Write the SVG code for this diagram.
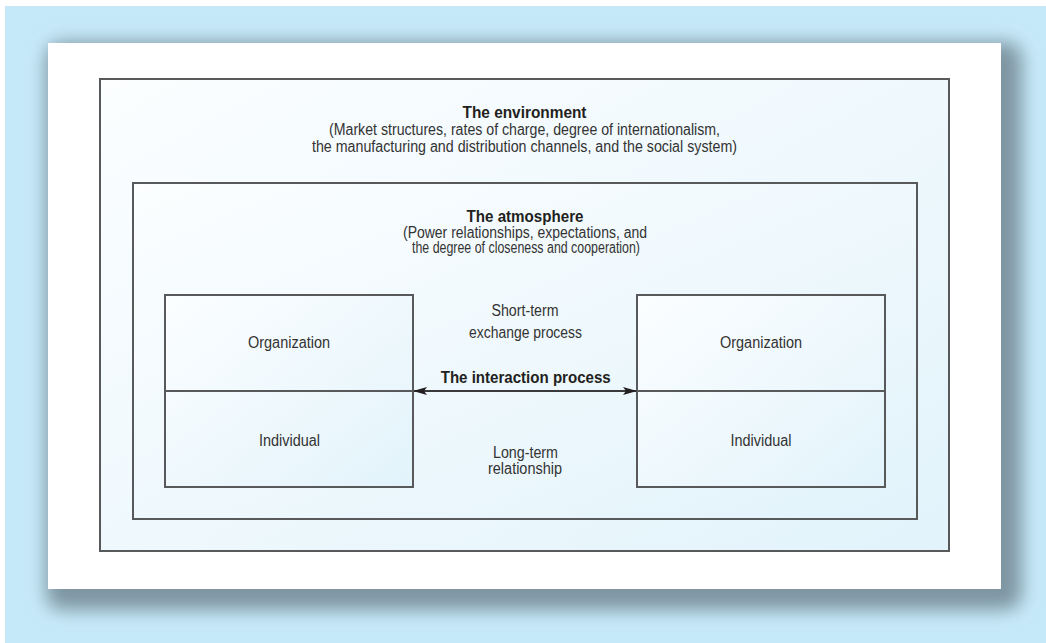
<svg xmlns="http://www.w3.org/2000/svg" width="1046" height="643" viewBox="0 0 1046 643">
  <style>
    .box { stroke: #58595b; stroke-width: 2; }
    .div { stroke: #58595b; stroke-width: 2; fill: none; }
    text { font-family: "Liberation Sans", Arial, sans-serif; font-size: 16px; fill: #333333; text-anchor: middle; }
    .b { font-weight: bold; fill: #231f20; }
    .conn { stroke: #3a3a3c; stroke-width: 2; fill: none; }
  </style>
  <defs>
    <linearGradient id="g" x1="0" y1="0" x2="1" y2="1">
      <stop offset="0" stop-color="#fcfeff"/>
      <stop offset="1" stop-color="#e2f3fb"/>
    </linearGradient>
    <filter id="blur" x="-10%" y="-10%" width="120%" height="120%">
      <feGaussianBlur stdDeviation="9"/>
    </filter>
    <marker id="ah" viewBox="0 0 14 8" refX="13" refY="4" markerWidth="14" markerHeight="8" markerUnits="userSpaceOnUse" orient="auto-start-reverse">
      <path d="M0,0 L14,4 L0,8 L3,4 z" fill="#231f20"/>
    </marker>
  </defs>
  <rect x="0" y="0" width="1046" height="643" fill="#ffffff"/>
  <rect x="5" y="6" width="1041" height="637" fill="#c6e9f9"/>
  <rect x="46" y="42" width="976" height="568" rx="16" fill="#7f96a3" filter="url(#blur)"/>
  <rect x="48" y="43" width="953" height="546" fill="#ffffff"/>

  <g id="environment">
    <rect class="box" x="100" y="79" width="849" height="472" fill="url(#g)"/>
    <text class="b" x="524.5" y="118" textLength="124" lengthAdjust="spacingAndGlyphs">The environment</text>
    <text x="524.5" y="135" textLength="391" lengthAdjust="spacingAndGlyphs">(Market structures, rates of charge, degree of internationalism,</text>
    <text x="524.5" y="151.5" textLength="425" lengthAdjust="spacingAndGlyphs">the manufacturing and distribution channels, and the social system)</text>
  </g>

  <g id="atmosphere">
    <rect class="box" x="133" y="183" width="784" height="336" fill="url(#g)"/>
    <text class="b" x="525" y="222" textLength="117" lengthAdjust="spacingAndGlyphs">The atmosphere</text>
    <text x="525" y="238" textLength="244" lengthAdjust="spacingAndGlyphs">(Power relationships, expectations, and</text>
    <text x="526" y="253" textLength="228" lengthAdjust="spacingAndGlyphs">the degree of closeness and cooperation)</text>
  </g>

  <g id="left-party">
    <rect class="box" x="165" y="295" width="248" height="192" fill="url(#g)"/>
    <line class="div" x1="165" y1="391" x2="413" y2="391"/>
    <text x="289" y="348" textLength="82" lengthAdjust="spacingAndGlyphs">Organization</text>
    <text x="289.5" y="446" textLength="61" lengthAdjust="spacingAndGlyphs">Individual</text>
  </g>

  <g id="right-party">
    <rect class="box" x="637" y="295" width="248" height="192" fill="url(#g)"/>
    <line class="div" x1="637" y1="391" x2="885" y2="391"/>
    <text x="761" y="348" textLength="82" lengthAdjust="spacingAndGlyphs">Organization</text>
    <text x="761" y="446" textLength="61" lengthAdjust="spacingAndGlyphs">Individual</text>
  </g>

  <g id="connectors">
    <line class="conn" x1="414" y1="391" x2="636" y2="391" marker-start="url(#ah)" marker-end="url(#ah)"/>
  </g>

  <g id="interaction-labels">
    <text x="525" y="316" textLength="67" lengthAdjust="spacingAndGlyphs">Short-term</text>
    <text x="525.5" y="337.5" textLength="113" lengthAdjust="spacingAndGlyphs">exchange process</text>
    <text class="b" x="525.7" y="382.7" textLength="170" lengthAdjust="spacingAndGlyphs">The interaction process</text>
    <text x="525.5" y="458" textLength="65" lengthAdjust="spacingAndGlyphs">Long-term</text>
    <text x="525" y="474" textLength="74" lengthAdjust="spacingAndGlyphs">relationship</text>
  </g>
</svg>
